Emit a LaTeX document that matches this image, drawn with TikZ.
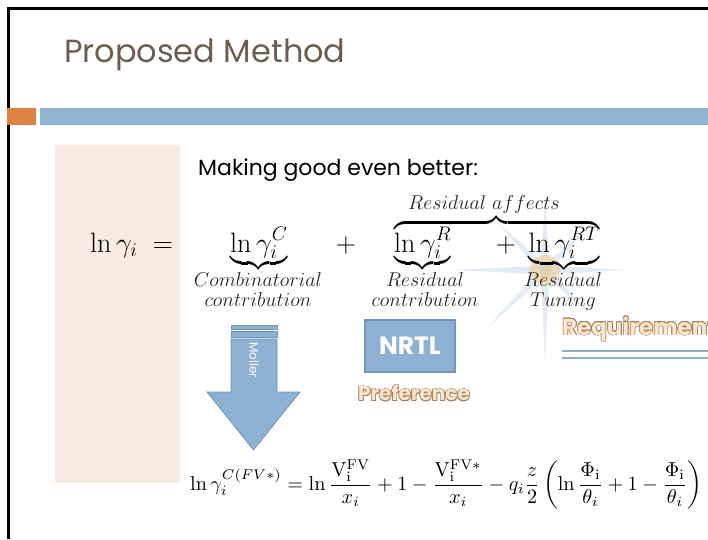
\RequirePackage{fix-cm}
\documentclass[tikz,border=0pt]{standalone}
\usepackage{amsmath}
\usepackage[no-math]{fontspec}
\newfontfamily\gothic{Poppins}
\definecolor{titlecol}{RGB}{110,92,82}
\definecolor{orangebar}{RGB}{223,131,68}
\definecolor{bluebar}{RGB}{147,180,208}
\definecolor{pinkbg}{RGB}{249,234,226}
\definecolor{boxblue}{RGB}{142,176,210}
\definecolor{boxedge}{RGB}{112,148,188}
\definecolor{rayblue}{RGB}{176,202,226}
\definecolor{glow}{RGB}{240,206,150}
\definecolor{peach}{RGB}{250,230,205}
\definecolor{peachedge}{RGB}{170,125,88}
\definecolor{reqline}{RGB}{140,175,205}
\tikzset{
  mathbig/.style={inner sep=0pt, font=\fontsize{28}{32}\selectfont},
  lbl/.style={inner sep=0pt, align=center, font=\fontsize{20}{20}\selectfont, text=black!85},
  ray/.style={fill=rayblue, fill opacity=0.35, draw=none},
  wordart/.style={inner sep=0pt, font=\gothic\bfseries\fontsize{#1}{#1}\selectfont},
}
\begin{document}
\begin{tikzpicture}[x=1pt,y=-1pt]
\useasboundingbox (0,0) rectangle (708,539);
\fill[white] (0,0) rectangle (708,539);
% slide frame
\draw[line width=3pt] (8.5,539) -- (8.5,8.5) -- (708,8.5);
% title
\node[anchor=base west, inner sep=0pt, text=titlecol, font=\gothic\fontsize{32}{36}\selectfont] (title) at (64,62) {Proposed Method};
% bars
\fill[orangebar] (7,108) rectangle (36,125);
\fill[bluebar] (40,108) rectangle (708,125);
% pink panel
\fill[pinkbg] (55,145) rectangle (180,483);
% subtitle
\node[anchor=base west, inner sep=0pt, font=\gothic\fontsize{22}{26}\selectfont] (making) at (198,175) {Making good even better:};
% starburst
\coordinate (sc) at (545,270);
\foreach \ang/\len in {0/80,45/62,90/92,135/82,180/92,225/70,270/72,315/62}{
  \fill[ray] ([shift={(\ang+90:4.5)}]sc) -- ([shift={(\ang:\len)}]sc) -- ([shift={(\ang-90:4.5)}]sc) -- cycle;
}
\fill[glow, fill opacity=0.6] (sc) circle (15);
% main equation
\node[mathbig, anchor=base west] (lhs) at (90,252) {$\ln\gamma_i\;=$};
\node[mathbig, anchor=base west] (comb) at (230,252) {$\underbrace{\ln\gamma_i^C}$};
\node[mathbig, anchor=base] (plus) at (346,252) {$+$};
\node[mathbig, anchor=base west] (resid) at (394,252) {$\overbrace{\underbrace{\ln\gamma_i^R}\hspace{40pt}\mathord{+}\hspace{8pt}\underbrace{\ln\gamma_i^{RT}}}$};
\node[lbl, anchor=base] (affects) at (484,209) {$Residual\ affects$};
\node[lbl, anchor=north] (lcomb) at (258,272) {$Combinatorial$\\$contribution$};
\node[lbl, anchor=north] (lres) at (425,272) {$Residual$\\$contribution$};
\node[lbl, anchor=north] (ltun) at (563,272) {$Residual$\\$Tuning$};
% Moller arrow
\filldraw[fill=boxblue, draw=boxedge, line width=0.8pt] (231,325) rectangle (277,329);
\filldraw[fill=boxblue, draw=boxedge, line width=0.8pt] (231,331) rectangle (277,337);
\filldraw[fill=boxblue, draw=boxedge, line width=0.8pt] (231,339) -- (277,339) -- (277,392) -- (300,392) -- (253.5,450) -- (207,392) -- (231,392) -- cycle;
\node[rotate=-90, text=white, inner sep=0pt, font=\gothic\fontsize{12}{12}\selectfont] (moller) at (254,360) {Moller};
% NRTL
\node[fill=boxblue, draw=boxedge, line width=1.2pt, minimum width=90pt, minimum height=52pt, text=white, font=\gothic\bfseries\fontsize{25}{28}\selectfont] (nrtl) at (410,346) {NRTL};
% Preference word art
\foreach \a in {0,30,...,330}{
  \node[wordart=20, text=peachedge] (pref-o-\a) at ([shift={(\a:0.7)}]414,393) {Preference};
}
\node[wordart=20, text=peach] (pref) at (414,393) {Preference};
% Requirement word art
\foreach \a in {0,30,...,330}{
  \node[wordart=23, text=peachedge, anchor=west] (req-o-\a) at ([shift={(\a:0.7)}]562,329) {Requirement};
}
\node[wordart=23, text=peach, anchor=west] (req) at (562,329) {Requirement};
\draw[reqline, line width=1.3pt] (562,351) -- (708,351);
\draw[reqline, line width=2.5pt] (562,358) -- (708,358);
% bottom equation
\node[anchor=base west, inner sep=0pt] (eqC) at (190,490) {\resizebox{512pt}{!}{$\displaystyle \ln\gamma_i^{C(FV*)} = \ln\frac{\mathrm{V}_{\mathrm{i}}^{\mathrm{FV}}}{x_i} + 1 - \frac{\mathrm{V}_{\mathrm{i}}^{\mathrm{FV}*}}{x_i} - q_i\frac{z}{2}\left(\ln\frac{\Phi_{\mathrm{i}}}{\theta_i} + 1 - \frac{\Phi_{\mathrm{i}}}{\theta_i}\right)$}};
\end{tikzpicture}
\end{document}
